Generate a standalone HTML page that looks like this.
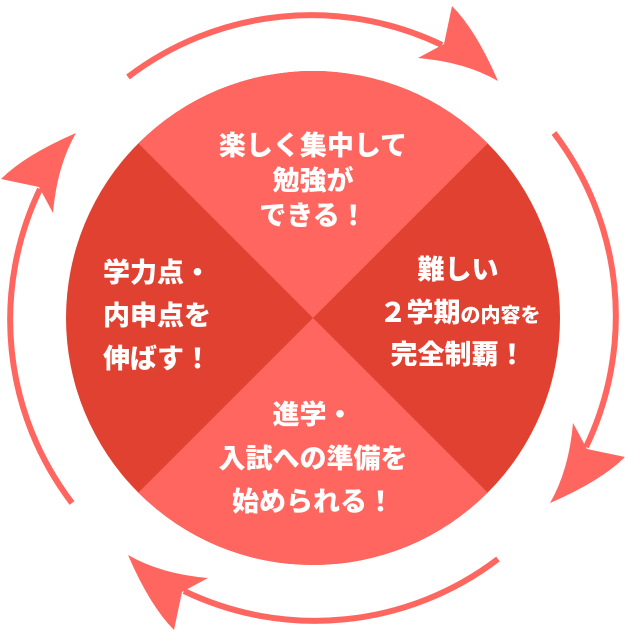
<!DOCTYPE html>
<html><head><meta charset="utf-8"><style>
body{margin:0;background:#fff;width:628px;height:630px;overflow:hidden}
svg text{font-family:"Liberation Sans","Noto Sans CJK JP",sans-serif;font-weight:900;fill:#fff;text-anchor:middle;font-size:27px}
</style></head><body>
<svg width="628" height="630" viewBox="0 0 628 630">
<defs>
<clipPath id="c"><circle cx="313" cy="318" r="247"/></clipPath>
<g id="arr">
<path d="M128,77 A302,302 0 0 1 442,45" fill="none" stroke="#ff665f" stroke-width="6"/>
<path d="M498,81 Q476,30 452,6 L444,44 L418,58 Q465,62 498,81 Z" fill="#ff665f"/>
</g>
</defs>
<g clip-path="url(#c)">
<rect x="0" y="0" width="628" height="630" fill="#e04131"/>
<polygon points="313,318 0,5 626,5" fill="#ff665f"/>
<polygon points="313,318 0,631 626,631" fill="#ff665f"/>
</g>
<use href="#arr"/>
<use href="#arr" transform="rotate(90 313 318)"/>
<use href="#arr" transform="rotate(180 313 318)"/>
<use href="#arr" transform="rotate(270 313 318)"/>
<text x="313" y="155">楽しく集中して</text>
<text x="313" y="190">勉強が</text>
<text x="313" y="225">できる！</text>
<text x="157" y="282">学力点・</text>
<text x="157" y="325">内申点を</text>
<text x="157" y="368">伸ばす！</text>
<text x="458" y="279">難しい</text>
<text x="460" y="322">２学期<tspan font-size="20">の内容を</tspan></text>
<text x="458" y="364">完全制覇！</text>
<text x="313" y="424">進学・</text>
<text x="313" y="468">入試への準備を</text>
<text x="313" y="511">始められる！</text>
</svg>
</body></html>
